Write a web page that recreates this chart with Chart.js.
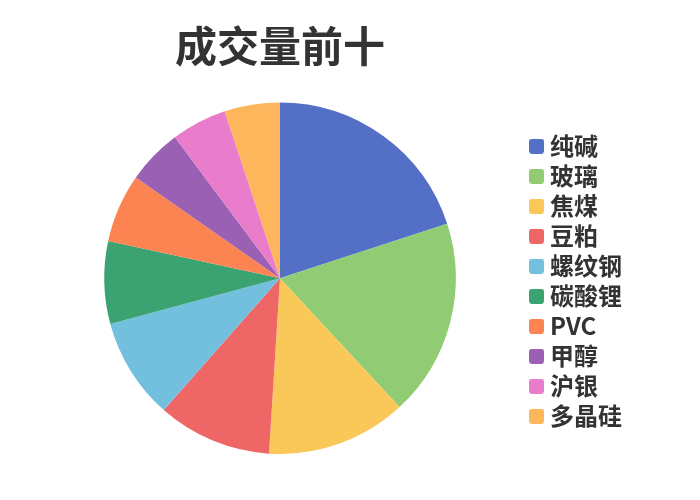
<!DOCTYPE html>
<html>
<head>
<meta charset="utf-8">
<script src="https://cdn.jsdelivr.net/npm/chart.js@4/dist/chart.umd.min.js"></script>
<style>
  html, body { margin: 0; padding: 0; background: #ffffff; }
  #wrap { width: 700px; height: 500px; }
</style>
</head>
<body>
<div id="wrap"><canvas id="c" width="700" height="500"></canvas></div>
<script>
const titleText = '成交量前十';
const categories = ['纯碱', '玻璃', '焦煤', '豆粕', '螺纹钢', '碳酸锂', 'PVC', '甲醇', '沪银', '多晶硅'];
const volumeShare = [20.0, 18.1, 12.9, 10.5, 9.3, 7.6, 6.3, 5.1, 5.1, 5.1];
const sliceColors = ['#5470c6', '#91cc75', '#fac858', '#ee6666', '#73c0de', '#3ba272', '#fc8452', '#9a60b4', '#ea7ccc', '#fdb65b'];

const fontFamily = '"Noto Sans CJK SC", "Noto Sans", sans-serif';

// rounded legend swatches used as point styles
function swatch(color) {
  const cv = document.createElement('canvas');
  cv.width = 15; cv.height = 15;
  const g = cv.getContext('2d');
  g.fillStyle = color;
  g.beginPath();
  if (g.roundRect) { g.roundRect(0, 0, 15, 15, 3); } else { g.rect(0, 0, 15, 15); }
  g.fill();
  return cv;
}
const swatches = sliceColors.map(swatch);

new Chart(document.getElementById('c'), {
  type: 'pie',
  data: {
    labels: categories,
    datasets: [{
      data: volumeShare,
      backgroundColor: sliceColors,
      borderWidth: 0
    }]
  },
  options: {
    responsive: false,
    animation: false,
    devicePixelRatio: 1,
    layout: { padding: { top: 0, bottom: 46, left: 31, right: 68 } },
    plugins: {
      title: {
        display: true,
        text: titleText,
        fullSize: false,
        color: '#333333',
        font: { family: fontFamily, size: 42, weight: 'bold', lineHeight: 1.2 },
        padding: { top: 21, bottom: 31 }
      },
      legend: {
        display: true,
        position: 'right',
        fullSize: false,
        align: 'center',
        title: { display: true, text: '', padding: 0, font: { size: 5, lineHeight: 1.2 } },
        labels: {
          color: '#333333',
          font: { family: fontFamily, size: 24, weight: 'bold' },
          usePointStyle: true,
          pointStyleWidth: 3,
          boxHeight: 15,
          padding: 6,
          generateLabels: function (chart) {
            const items = Chart.controllers.pie.overrides.plugins.legend.labels.generateLabels(chart);
            items.forEach(function (it, i) { it.pointStyle = swatches[i]; it.lineWidth = 0; });
            return items;
          }
        }
      },
      tooltip: { enabled: false }
    }
  }
});
</script>
</body>
</html>
